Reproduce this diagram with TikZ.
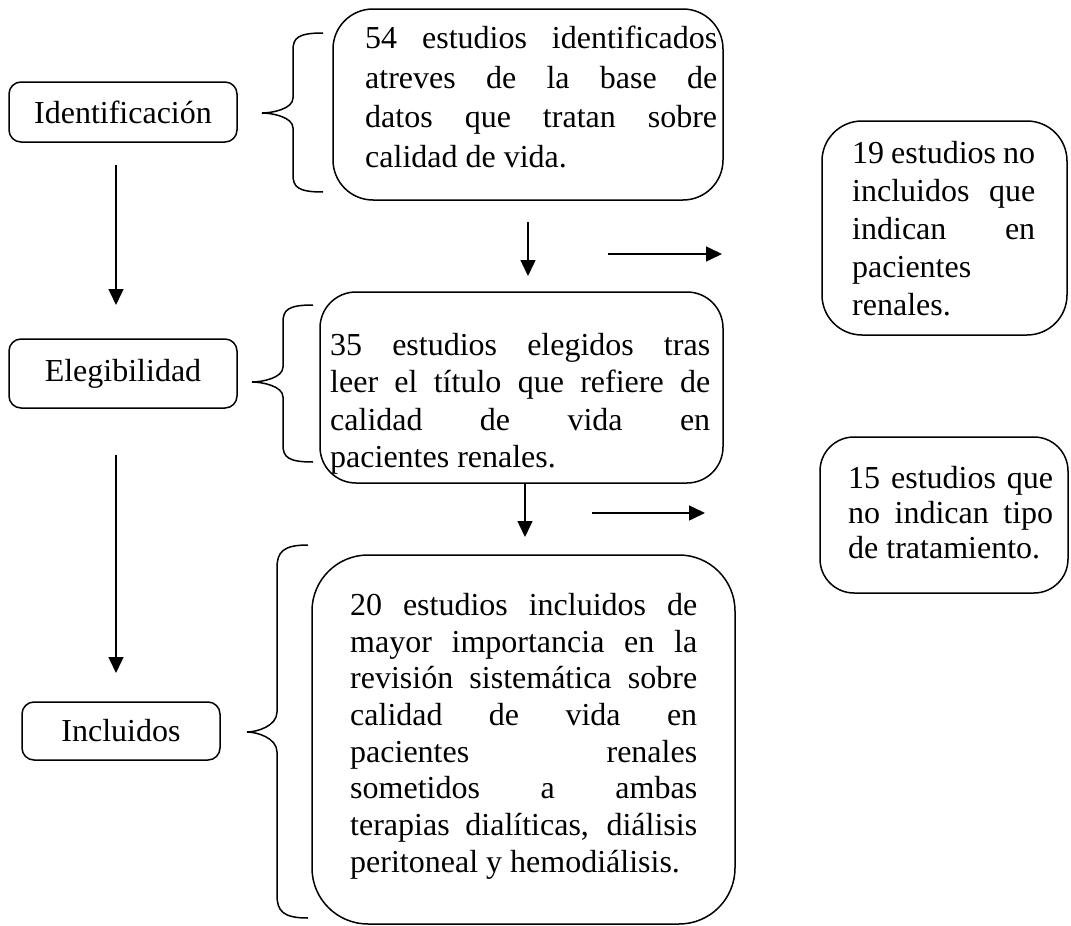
\documentclass[tikz,border=0pt]{standalone}
\usepackage{fontspec}
\setmainfont{Liberation Serif}
\usetikzlibrary{arrows.meta}
\newcommand{\jl}[2]{\makebox[#1][s]{#2}}
\begin{document}
\begin{tikzpicture}[x=1pt,y=-1pt,
  lbl/.style={draw,line width=1.5pt,rounded corners=12pt,inner sep=0pt,font=\fontsize{32pt}{38pt}\selectfont},
  bigbox/.style={draw,line width=1.5pt,inner sep=0pt},
  txt/.style={anchor=north west,inner sep=0pt,align=left},
  arr/.style={line width=1.5pt,-{Triangle[length=16pt,width=15pt]}},
  brc/.style={line width=1.5pt}]
\useasboundingbox (0,0) rectangle (1071,926);
% left labels
\node[lbl,minimum width=228pt,minimum height=60pt] (id) at (123,112) {Identificación};
\node[lbl,minimum width=228pt,minimum height=69pt] (el) at (123,373.5) {Elegibilidad};
\node[lbl,minimum width=198pt,minimum height=58pt] (inc) at (121,731) {Incluidos};
% boxes
\node[bigbox,rounded corners=40pt,minimum width=390pt,minimum height=191pt] (b1) at (528,104.5) {};
\node[bigbox,rounded corners=36pt,minimum width=403pt,minimum height=191pt] (b2) at (521.5,387.5) {};
\node[bigbox,rounded corners=40pt,minimum width=245pt,minimum height=214pt] (b19) at (944.5,228) {};
\node[bigbox,rounded corners=34pt,minimum width=248pt,minimum height=156pt] (b15) at (944,515) {};
\node[bigbox,rounded corners=56pt,minimum width=423pt,minimum height=369pt] (b3) at (523.5,739.5) {};
% texts (placed by the top of the first line = first baseline - 22)
\node[txt,font=\fontsize{32pt}{39.5pt}\selectfont] (t1) at (365,26) {\jl{352pt}{54 estudios identificados}\\ \jl{352pt}{atreves de la base de}\\ \jl{352pt}{datos que tratan sobre}\\ calidad de vida.};
\node[txt,font=\fontsize{32pt}{37.5pt}\selectfont] (t2) at (330,333) {\jl{380pt}{35 estudios elegidos tras}\\ \jl{380pt}{leer el título que refiere de}\\ \jl{380pt}{calidad de vida en}\\ pacientes renales.};
\node[txt,font=\fontsize{32pt}{38pt}\selectfont] (t19) at (852,141) {\jl{183pt}{19 estudios no}\\ \jl{183pt}{incluidos que}\\ \jl{183pt}{indican en}\\ pacientes\\ renales.};
\node[txt,font=\fontsize{32pt}{35pt}\selectfont] (t15) at (848,466) {\jl{205pt}{15 estudios que}\\ \jl{205pt}{no indican tipo}\\ de tratamiento.};
\node[txt,font=\fontsize{32pt}{36.7pt}\selectfont] (t3) at (350,593) {\jl{347pt}{20 estudios incluidos de}\\ \jl{347pt}{mayor importancia en la}\\ \jl{347pt}{revisión sistemática sobre}\\ \jl{347pt}{calidad de vida en}\\ \jl{347pt}{pacientes renales}\\ \jl{347pt}{sometidos a ambas}\\ \jl{347pt}{terapias dialíticas, diálisis}\\ peritoneal y hemodiálisis.};
% arrow end points
\coordinate (a1s) at (116,165); \coordinate (a1e) at (116,305);
\coordinate (a2s) at (116,455); \coordinate (a2e) at (116,673);
\coordinate (a3s) at (528,222); \coordinate (a3e) at (528,276);
\coordinate (a4s) at (608,254); \coordinate (a4e) at (722,254);
\coordinate (a5s) at (525,483); \coordinate (a5e) at (525,537);
\coordinate (a6s) at (592,513); \coordinate (a6e) at (705,513);
\draw[arr] (a1s) -- (a1e);
\draw[arr] (a2s) -- (a2e);
\draw[arr] (a3s) -- (a3e);
\draw[arr] (a4s) -- (a4e);
\draw[arr] (a5s) -- (a5e);
\draw[arr] (a6s) -- (a6e);
% braces
\draw[brc] (323,33) .. controls (298,33) and (293,38) .. (293,50) -- (293,98)
  .. controls (293,109) and (272,113) .. (262,113)
  .. controls (272,113) and (293,117) .. (293,128) -- (293,175)
  .. controls (293,187) and (298,192) .. (323,192);
\draw[brc] (313,305) .. controls (288,305) and (283,310) .. (283,322) -- (283,367)
  .. controls (283,378) and (262,382) .. (252,382)
  .. controls (262,382) and (283,386) .. (283,397) -- (283,445)
  .. controls (283,457) and (288,462) .. (313,462);
\draw[brc] (308,545) .. controls (283,545) and (277,552) .. (277,568) -- (277,712)
  .. controls (277,726) and (257,732) .. (247,732)
  .. controls (257,732) and (277,738) .. (277,752) -- (277,895)
  .. controls (277,911) and (283,918) .. (308,918);
\end{tikzpicture}
\end{document}
